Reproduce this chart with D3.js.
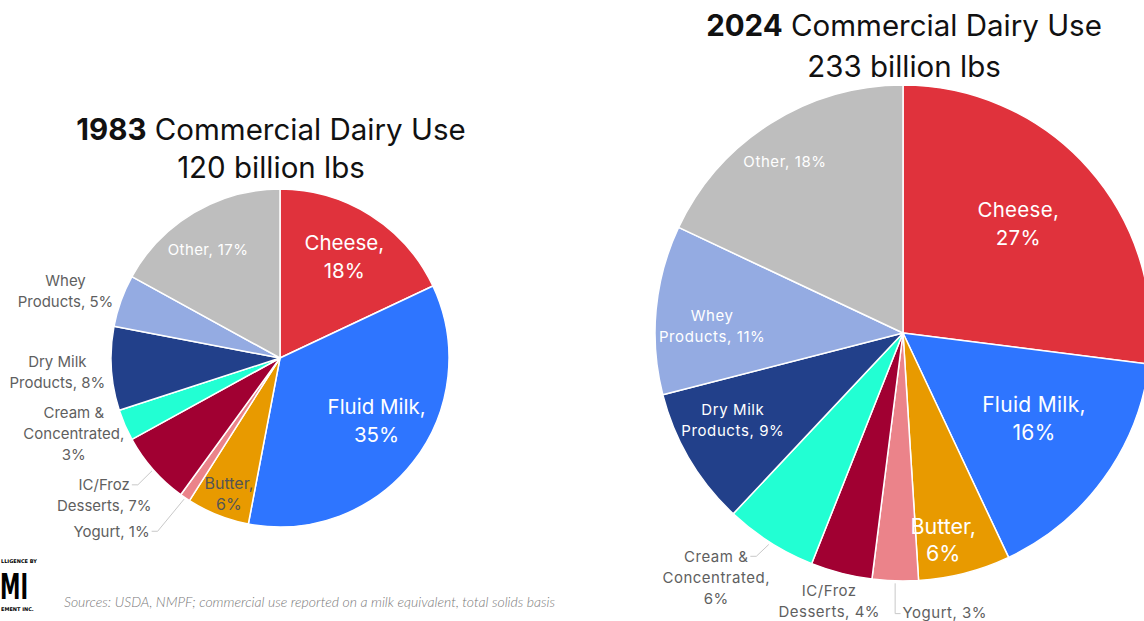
<!DOCTYPE html>
<html>
<head>
<meta charset="utf-8">
<script src="https://cdn.jsdelivr.net/npm/d3@7"></script>
<style>
  body { margin: 0; background: #fff; overflow: hidden; }
  svg { display: block; font-family: Inter, "Open Sans", sans-serif; }
</style>
</head>
<body>
<svg id="chart" width="1144" height="621"></svg>
<script>
// Data
const categories = ['Cheese', 'Fluid Milk', 'Butter', 'Yogurt', 'IC/Froz Desserts',
    'Cream & Concentrated', 'Dry Milk Products', 'Whey Products', 'Other'];
const values1983 = [18, 35, 6, 1, 7, 3, 8, 5, 17];
const values2024 = [27, 16, 6, 3, 4, 6, 9, 11, 18];
const years = ['1983', '2024'];
const totals = ['120 billion lbs', '233 billion lbs'];
// Label text per category, {v} is replaced by the value
const labelTemplates = [
    ['Cheese,', '{v}%'],
    ['Fluid Milk,', '{v}%'],
    ['Butter,', '{v}%'],
    ['Yogurt, {v}%'],
    ['IC/Froz', 'Desserts, {v}%'],
    ['Cream &', 'Concentrated,', '{v}%'],
    ['Dry Milk', 'Products, {v}%'],
    ['Whey', 'Products, {v}%'],
    ['Other, {v}%']
];
const sourceNote = 'Sources: USDA, NMPF; commercial use reported on a milk equivalent, total solids basis';

const colors = ['#e0323c', '#2e75ff', '#e89a00', '#eb838a', '#a10032',
    '#22ffd3', '#22408a', '#94abe2', '#bebebe'];

const GRAY = '#5f5f5f';

// Layout of each pie (positions and label placement only)
const charts = [
    {
        values: values1983,
        cx: 280, cy: 358, r: 169,
        titleX: 271, titleY: 140, titleGap: 38,
        // k: distance as fraction of radius, da: angle nudge (deg)
        labels: [
            { k: 0.71, da: 0, size: 20.5, lh: 28, fill: '#fff' },
            { k: 0.68, da: -5, size: 20.5, lh: 28, fill: '#fff' },
            { k: 0.86, da: -1, size: 16, lh: 21, fill: '#555' },
            { k: 1.43, da: 10, size: 15, lh: 21, fill: GRAY, leader: 'side' },
            { k: 1.32, da: 3.4, size: 15, lh: 21, fill: GRAY, leader: 'side' },
            { k: 1.30, da: 3.2, size: 15, lh: 21, fill: GRAY },
            { k: 1.32, da: 0, size: 15, lh: 21, fill: GRAY },
            { k: 1.33, da: -2.4, size: 15, lh: 21, fill: GRAY },
            { k: 0.77, da: -3, size: 15, lh: 20, fill: '#fff', ls: 0.4 }
        ]
    },
    {
        values: values2024,
        cx: 903, cy: 333, r: 248,
        titleX: 904, titleY: 36, titleGap: 41,
        labels: [
            { k: 0.64, da: -2, size: 20.5, lh: 28, fill: '#fff', ls: 0.3 },
            { k: 0.63, da: -3, size: 21, lh: 28, fill: '#fff', ls: 0.3 },
            { k: 0.85, da: 3.4, size: 21.5, lh: 27, fill: '#fff' },
            { k: 1.14, da: -10.3, size: 15, lh: 21, fill: GRAY, leader: 'down', ls: 0.5 },
            { k: 1.12, da: 1, size: 15, lh: 21, fill: GRAY, ls: 0.5 },
            { k: 1.24, da: 5, size: 15, lh: 21, fill: GRAY, leader: 'side', ls: 0.5 },
            { k: 0.77, da: 3.6, size: 15, lh: 21, fill: '#fff', ls: 0.6 },
            { k: 0.77, da: -3.4, size: 15, lh: 21, fill: '#fff', ls: 0.6 },
            { k: 0.84, da: -2.1, size: 15, lh: 21, fill: '#fff', ls: 0.6 }
        ]
    }
];

const svg = d3.select('#chart');

const polar = (c, a, d) => [c.cx + d * Math.sin(a), c.cy - d * Math.cos(a)];

charts.forEach((c, ci) => {
    const data = categories.map((name, i) => ({ name, value: c.values[i], idx: i }));

    const pie = d3.pie().sort(null).value(d => d.value);
    const arc = d3.arc().innerRadius(0).outerRadius(c.r);
    const arcs = pie(data);

    const g = svg.append('g');

    // Slices
    g.selectAll('path')
        .data(arcs)
        .enter()
        .append('path')
            .attr('transform', `translate(${c.cx},${c.cy})`)
            .attr('d', arc)
            .attr('fill', d => colors[d.data.idx])
            .attr('stroke', '#fff')
            .attr('stroke-width', 1.5)
            .attr('stroke-linejoin', 'round');

    // Labels
    arcs.forEach(d => {
        const L = c.labels[d.data.idx];
        const mid = (d.startAngle + d.endAngle) / 2;
        const a = mid + L.da * Math.PI / 180;
        const [lx, ly] = polar(c, a, L.k * c.r);
        const lines = labelTemplates[d.data.idx].map(t => t.replace('{v}', d.data.value));
        const y0 = ly - (lines.length - 1) * L.lh / 2;

        const text = g.append('text')
            .attr('text-anchor', 'middle')
            .attr('fill', L.fill)
            .attr('letter-spacing', L.ls || 0)
            .style('font-size', L.size + 'px');
        lines.forEach((line, li) => {
            text.append('tspan')
                .attr('x', lx)
                .attr('y', y0 + li * L.lh + L.size * 0.36)
                .text(line);
        });

        // Leader lines for labels sitting outside their slice
        if (L.leader) {
            const [sx, sy] = polar(c, mid, c.r * 1.01);
            const w = text.select('tspan').node().getComputedTextLength();
            let pts;
            if (L.leader === 'side') {
                const ex = lx + w / 2 + 2;
                pts = [[sx, sy], [ex + 6, y0], [ex, y0]];
            } else {
                const ex = lx - w / 2 - 2;
                const ey = y0 + 1;
                pts = [[sx, sy], [sx, ey], [ex, ey]];
            }
            g.append('path')
                .attr('d', d3.line()(pts))
                .attr('fill', 'none')
                .attr('stroke', '#c8c8c8')
                .attr('stroke-width', 1);
        }
    });

    // Title
    const title = g.append('text')
        .attr('x', c.titleX)
        .attr('y', c.titleY)
        .attr('text-anchor', 'middle')
        .attr('fill', '#111')
        .style('font-size', '29.5px');
    title.append('tspan').attr('font-weight', 700).text(years[ci]);
    title.append('tspan').text(' Commercial Dairy Use');

    g.append('text')
        .attr('x', c.titleX)
        .attr('y', c.titleY + c.titleGap)
        .attr('text-anchor', 'middle')
        .attr('fill', '#111')
        .style('font-size', '29.5px')
        .text(totals[ci]);
});

// Source note
svg.append('text')
    .attr('x', 64)
    .attr('y', 607)
    .attr('fill', '#7a7a7a')
    .style('font-family', 'Lato, sans-serif')
    .style('font-style', 'italic')
    .style('font-weight', 300)
    .style('font-size', '14px')
    .text(sourceNote);

// Logo (only the part that shows at the left edge)
const logo = svg.append('g').attr('fill', '#000').style('font-family', '"DejaVu Sans", sans-serif');
logo.append('text').attr('x', 1).attr('y', 563)
    .style('font-size', '5px').style('font-weight', 700).text('LLIGENCE BY');
logo.append('text').attr('x', 0).attr('y', 599)
    .attr('textLength', 28).attr('lengthAdjust', 'spacingAndGlyphs')
    .style('font-size', '36px').style('font-weight', 900).text('MI');
logo.append('text').attr('x', 1).attr('y', 611)
    .style('font-size', '5px').style('font-weight', 700).text('EMENT INC.');
</script>
</body>
</html>
